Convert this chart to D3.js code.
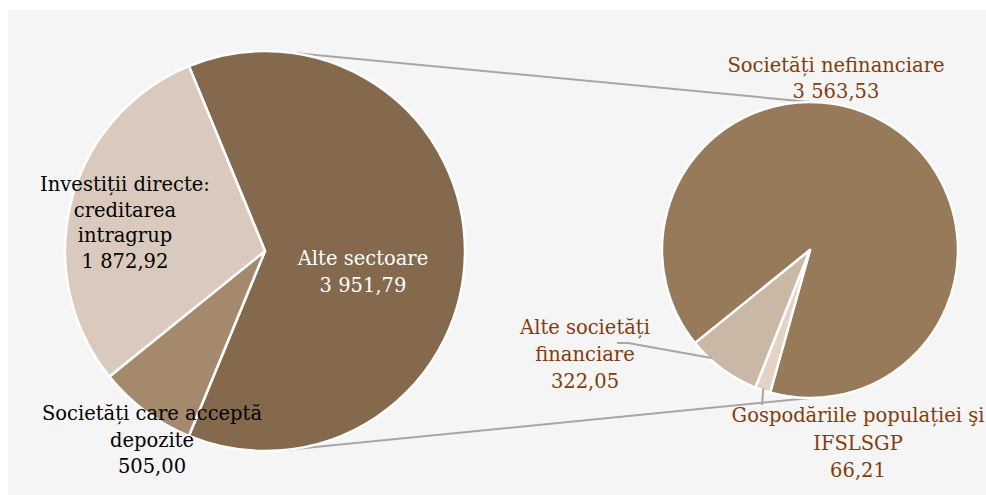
<!DOCTYPE html>
<html>
<head>
<meta charset="utf-8">
<script src="https://cdn.jsdelivr.net/npm/d3@7"></script>
<style>
  html, body { margin: 0; padding: 0; background: #ffffff; }
  svg { display: block; }
  text { font-family: "DejaVu Serif", serif; }
</style>
</head>
<body>
<svg id="chart" width="986" height="495"></svg>
<script>
// Primary pie: external debt by sector (mil. EUR)
const mainCategories = ["Alte sectoare", "Societăți care acceptă depozite", "Investiții directe: creditarea intragrup"];
const mainValues = [3951.79, 505.00, 1872.92];
const mainLabelLines = [["Alte sectoare", "3 951,79"], ["Societăți care acceptă", "depozite", "505,00"], ["Investiții directe:", "creditarea", "intragrup", "1 872,92"]];
const mainColors = ["#84694c", "#a4896c", "#d9cabd"];

// Secondary pie: breakdown of "Alte sectoare"
const subCategories = ["Societăți nefinanciare", "Gospodăriile populației şi IFSLSGP", "Alte societăți financiare"];
const subValues = [3563.53, 66.21, 322.05];
const subLabelLines = [["Societăți nefinanciare", "3 563,53"], ["Gospodăriile populației şi", "IFSLSGP", "66,21"], ["Alte societăți", "financiare", "322,05"]];
const subColors = ["#967a5a", "#e3d3c4", "#cab8a7"];

const svg = d3.select("#chart");
const deg = Math.PI / 180;

svg.append("rect").attr("x", 8).attr("y", 10).attr("width", 978).attr("height", 485).attr("fill", "#f5f5f5");

// geometry
const main = { cx: 265, cy: 251, r: 200 };
const sub = { cx: 810, cy: 250, r: 148 };

// the "Alte sectoare" slice is centred on the right-hand side of the primary pie
const mainTotal = d3.sum(mainValues);
const otherSpan = mainValues[0] / mainTotal * 2 * Math.PI;
const mainStart = Math.PI / 2 - otherSpan / 2;

const mainPie = d3.pie().sort(null).value(d => d).startAngle(mainStart).endAngle(mainStart + 2 * Math.PI);
const subStart = 231 * deg;
const subPie = d3.pie().sort(null).value(d => d).startAngle(subStart).endAngle(subStart + 2 * Math.PI);

const mainArcs = mainPie(mainValues);
const subArcs = subPie(subValues);

const mainArc = d3.arc().innerRadius(0).outerRadius(main.r);
const subArc = d3.arc().innerRadius(0).outerRadius(sub.r);

const polar = (c, r, a) => [c.cx + r * Math.sin(a), c.cy - r * Math.cos(a)];

// tangent point on the primary pie seen from an external point p (side: -1 upper, +1 lower)
function tangentPoint(c, p, side) {
  const dx = p[0] - c.cx, dy = p[1] - c.cy;
  const d = Math.hypot(dx, dy);
  const phi = Math.atan2(dy, dx);
  const alpha = Math.acos(c.r / d);
  const a = phi + side * alpha;
  return [c.cx + c.r * Math.cos(a), c.cy + c.r * Math.sin(a)];
}

// series lines from the primary pie to the top and bottom of the secondary pie
const subTop = [sub.cx, sub.cy - sub.r];
const subBottom = [sub.cx, sub.cy + sub.r];
const connectors = [
  [tangentPoint(main, subTop, -1), subTop],
  [tangentPoint(main, subBottom, 1), subBottom]
];
svg.append("g").selectAll("line").data(connectors).join("line")
  .attr("x1", d => d[0][0]).attr("y1", d => d[0][1])
  .attr("x2", d => d[1][0]).attr("y2", d => d[1][1])
  .attr("stroke", "#a6a6a6").attr("stroke-width", 2);

svg.append("g").attr("transform", `translate(${main.cx},${main.cy})`)
  .selectAll("path").data(mainArcs).join("path")
  .attr("d", mainArc)
  .attr("fill", (d, i) => mainColors[i])
  .attr("stroke", "#ffffff").attr("stroke-width", 2.5).attr("stroke-linejoin", "round");

svg.append("g").attr("transform", `translate(${sub.cx},${sub.cy})`)
  .selectAll("path").data(subArcs).join("path")
  .attr("d", subArc)
  .attr("fill", (d, i) => subColors[i])
  .attr("stroke", "#ffffff").attr("stroke-width", 2.5).attr("stroke-linejoin", "round");

// leader lines for the small slices of the secondary pie
const leaders = [
  [[617, 343], [628, 343], polar(sub, sub.r - 2, (subArcs[2].startAngle + subArcs[2].endAngle) / 2 + 6 * deg)],
  [[762, 405], polar(sub, sub.r - 2, (subArcs[1].startAngle + subArcs[1].endAngle) / 2)]
];
svg.append("g").selectAll("polyline").data(leaders).join("polyline")
  .attr("points", d => d.map(p => p.join(",")).join(" "))
  .attr("fill", "none").attr("stroke", "#a6a6a6").attr("stroke-width", 2);

// labels
const labels = [
  { lines: mainLabelLines[0], x: 363, y: 265, dy: 27, color: "#ffffff" },
  { lines: mainLabelLines[1], x: 152, y: 420, dy: 26.5, color: "#000000" },
  { lines: mainLabelLines[2], x: 125, y: 191, dy: 25.5, color: "#000000" },
  { lines: subLabelLines[0], x: 836, y: 72, dy: 26, color: "#843c0c" },
  { lines: subLabelLines[1], x: 858, y: 422, dy: 27.5, color: "#843c0c" },
  { lines: subLabelLines[2], x: 585, y: 334, dy: 27, color: "#843c0c" }
];
const lg = svg.append("g");
labels.forEach(l => {
  const t = lg.append("text")
    .attr("x", l.x).attr("y", l.y)
    .attr("text-anchor", "middle")
    .attr("font-size", 19.5)
    .attr("fill", l.color);
  l.lines.forEach((s, i) => {
    t.append("tspan").attr("x", l.x).attr("dy", i === 0 ? 0 : l.dy).text(s);
  });
});
</script>
</body>
</html>
